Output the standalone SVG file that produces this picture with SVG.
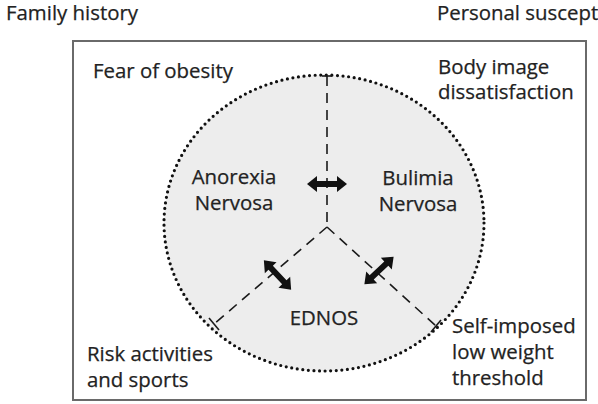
<svg xmlns="http://www.w3.org/2000/svg" width="598" height="404" viewBox="0 0 598 404">
  <style>
    .t { font-family: "Open Sans", "Noto Sans", "Liberation Sans", sans-serif; font-size: 20.4px; fill: #222222; stroke: #222222; stroke-width: 0.25; }
    .c { text-anchor: middle; }
    .dash { fill: none; stroke: #1a1a1a; stroke-width: 1.6; stroke-dasharray: 10 7; }
    .tick { fill: none; stroke: #1a1a1a; stroke-width: 1.6; }
    .arr { fill: #111; }
  </style>
  <defs>
    <path id="darrow" d="M-20,0 L-10,-8 L-10,-3 L10,-3 L10,-8 L20,0 L10,8 L10,3 L-10,3 L-10,8 Z"/>
  </defs>
  <rect width="598" height="404" fill="#ffffff"/>

  <g id="outer-labels">
    <text class="t" x="6" y="20">Family history</text>
    <text class="t" x="437" y="20">Personal suscept</text>
  </g>

  <g id="frame">
    <rect x="73" y="41" width="513" height="359" fill="none" stroke="#6a6a6a" stroke-width="2"/>
  </g>

  <g id="circle">
    <ellipse cx="324" cy="223" rx="160" ry="148" fill="#ededed" stroke="#111" stroke-width="3.2" stroke-dasharray="0 5.6" stroke-linecap="round"/>
  </g>

  <g id="connectors">
    <line class="dash" x1="327" y1="76" x2="327" y2="227"/>
    <line class="tick" x1="322" y1="76" x2="332" y2="76"/>
    <line class="dash" x1="327" y1="227" x2="214" y2="324"/>
    <line class="dash" x1="327" y1="227" x2="436" y2="326"/>
    <line class="tick" x1="209" y1="318" x2="219" y2="330"/>
    <line class="tick" x1="441" y1="320" x2="431" y2="332"/>
    <use href="#darrow" class="arr" transform="translate(327,184)"/>
    <use href="#darrow" class="arr" transform="translate(277.5,275) rotate(47)"/>
    <use href="#darrow" class="arr" transform="translate(379,270.5) rotate(-43)"/>
  </g>

  <g id="fear-of-obesity">
    <text class="t" x="93" y="78">Fear of obesity</text>
  </g>
  <g id="body-image">
    <text class="t" x="438" y="74">Body image</text>
    <text class="t" x="438" y="99">dissatisfaction</text>
  </g>
  <g id="anorexia">
    <text class="t c" x="234" y="184">Anorexia</text>
    <text class="t c" x="234" y="210">Nervosa</text>
  </g>
  <g id="bulimia">
    <text class="t c" x="418" y="185">Bulimia</text>
    <text class="t c" x="418" y="211">Nervosa</text>
  </g>
  <g id="ednos">
    <text class="t c" x="324" y="325">EDNOS</text>
  </g>
  <g id="risk-activities">
    <text class="t" x="87" y="361">Risk activities</text>
    <text class="t" x="87" y="387">and sports</text>
  </g>
  <g id="self-imposed">
    <text class="t" x="452" y="333">Self-imposed</text>
    <text class="t" x="452" y="359">low weight</text>
    <text class="t" x="452" y="385">threshold</text>
  </g>
</svg>
